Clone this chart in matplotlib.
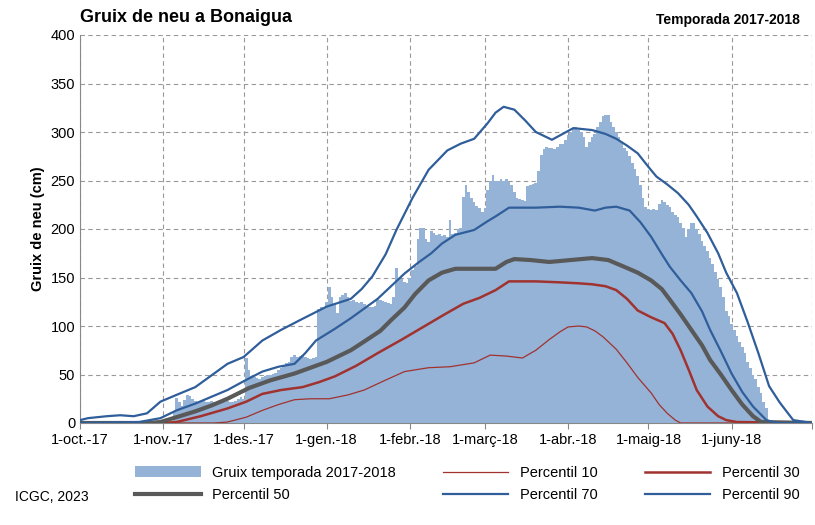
import numpy as np
import matplotlib.pyplot as plt

# daily snow depth (cm), day 0 = 1-oct-17
nov = [0, 0, 0, 0, 12, 26, 22, 18, 24, 29, 28, 25, 23, 22, 22, 23, 22, 22, 23, 22,
       22, 23, 22, 22, 23, 22, 22, 23, 25, 27]
dec = [25, 67, 55, 48, 47, 46, 45, 47, 48, 50, 49, 51, 52, 55, 57, 60, 62, 63, 68, 70,
       68, 69, 70, 68, 67, 66, 67, 68, 118, 120, 119]
jan = [125, 140, 130, 123, 113, 130, 132, 134, 130, 126, 127, 125, 124, 125, 123, 121,
       120, 120, 121, 128, 127, 126, 125, 124, 123, 130, 160, 150, 148, 145, 144]
feb = [150, 158, 162, 190, 201, 201, 190, 187, 198, 196, 194, 195, 193, 194, 192, 209,
       195, 196, 200, 201, 233, 245, 238, 232, 228, 224, 222, 218]
mar = [222, 240, 250, 256, 250, 249, 252, 250, 252, 248, 245, 238, 232, 231, 230, 229,
       244, 245, 246, 247, 260, 276, 282, 285, 284, 283, 282, 285, 288, 288, 292]
apr = [297, 300, 303, 305, 302, 300, 295, 285, 290, 295, 298, 305, 310, 316, 318, 318,
       310, 305, 300, 295, 290, 284, 280, 275, 268, 262, 255, 245, 232, 223]
may = [221, 220, 221, 220, 226, 230, 228, 225, 223, 218, 214, 212, 206, 201, 192, 200,
       206, 206, 200, 195, 188, 182, 177, 170, 164, 156, 148, 140, 130, 115, 110]
jun = [102, 96, 90, 84, 78, 72, 63, 57, 50, 45, 37, 31, 22, 15]
depth = [0] * 31 + nov + dec + jan + feb + mar + apr + may + jun

# percentile curves as (day, cm)
p10_days = [0, 50, 55, 62, 68, 74, 80, 86, 93, 100, 106, 113, 121, 130, 138, 147, 153, 159, 165, 170, 175, 179, 182, 186,
            189, 192, 195, 200, 204, 208, 213, 216, 219, 222, 224, 273]
p10_vals = [0, 0, 1, 6, 13, 19, 24, 25, 25, 29, 34, 43, 53, 57, 58, 62, 70, 69, 67, 75, 86, 94, 99, 100,
            99, 95, 89, 76, 62, 47, 31, 19, 10, 3, 0, 0]
p30_days = [0, 30, 36, 45, 55, 62, 68, 75, 83, 89, 95, 103, 111, 120, 128, 136, 143, 149, 155, 160, 170, 179, 186, 191,
            196, 200, 204, 208, 213, 218, 221, 224, 227, 230, 234, 238, 241, 245, 273]
p30_vals = [0, 0, 1, 7, 15, 22, 30, 34, 37, 42, 48, 59, 72, 86, 99, 112, 123, 129, 137, 146, 146, 145, 144, 143,
            141, 137, 128, 116, 109, 103, 92, 75, 55, 34, 17, 7, 3, 1, 0]
p50_days = [0, 25, 30, 36, 43, 49, 55, 63, 71, 80, 86, 92, 101, 106, 112, 116, 121, 125, 130, 135, 140, 147, 155, 159, 162,
            168, 175, 183, 191, 197, 203, 208, 213, 217, 220, 224, 228, 232, 235, 239, 243, 247, 251, 254, 273]
p50_vals = [0, 0, 1, 6, 12, 18, 25, 36, 44, 51, 57, 63, 75, 84, 95, 106, 119, 133, 147, 155, 159, 159, 159, 166, 169,
            168, 166, 168, 170, 168, 161, 155, 147, 138, 127, 112, 96, 80, 65, 50, 34, 19, 7, 1, 0]
p70_days = [0, 22, 30, 36, 43, 49, 55, 61, 68, 74, 80, 84, 88, 95, 101, 106, 111, 116, 121, 126, 131, 135, 140, 147, 152, 155,
            160, 170, 179, 186, 192, 196, 200, 205, 209, 213, 217, 220, 224, 228, 232, 235, 239, 243, 247, 251, 256, 260, 273]
p70_vals = [0, 1, 5, 13, 20, 27, 34, 43, 53, 58, 61, 72, 85, 97, 108, 118, 128, 141, 154, 165, 175, 185, 194, 199, 208, 213,
            222, 222, 223, 222, 219, 222, 223, 219, 207, 192, 174, 161, 147, 134, 115, 96, 74, 51, 32, 17, 3, 0, 0]
p90_days = [0, 3, 10, 15, 20, 25, 30, 36, 43, 49, 55, 61, 68, 75, 82, 92, 101, 105, 109, 114, 118, 124, 130, 137, 142, 147,
            152, 155, 158, 162, 166, 170, 176, 180, 184, 191, 196, 200, 204, 208, 212, 215, 219, 223, 227, 230, 234, 238,
            241, 245, 249, 253, 257, 261, 266, 273]
p90_vals = [3, 5, 7, 8, 7, 10, 22, 29, 37, 49, 61, 68, 85, 96, 106, 120, 128, 138, 151, 174, 199, 232, 261, 281, 288, 293,
            309, 320, 326, 323, 312, 300, 292, 298, 304, 302, 298, 293, 286, 278, 264, 254, 246, 237, 225, 213, 196, 175,
            155, 134, 104, 72, 38, 21, 3, 0]

month_days = [0, 31, 61, 92, 123, 151, 182, 212, 243, 273]
month_labels = ['1-oct.-17', '1-nov.-17', '1-des.-17', '1-gen.-18', '1-febr.-18',
                '1-març-18', '1-abr.-18', '1-maig-18', '1-juny-18', '']

plt.rcParams['font.family'] = ['Liberation Sans', 'DejaVu Sans']
fig = plt.figure(figsize=(8.15, 5.25), dpi=100)
ax = fig.add_axes([80 / 815, 102 / 525, 732 / 815, 388 / 525])

days = np.arange(len(depth))
bars = ax.bar(days, depth, width=1.0, color='#95B3D7', zorder=2)
red = '#A0322F'
blue = '#2F5E9A'
l10, = ax.plot(p10_days, p10_vals, color=red, lw=0.9, zorder=3)
l30, = ax.plot(p30_days, p30_vals, color=red, lw=1.8, zorder=3)
l50, = ax.plot(p50_days, p50_vals, color='#595959', lw=3, zorder=3)
l70, = ax.plot(p70_days, p70_vals, color=blue, lw=1.6, zorder=3)
l90, = ax.plot(p90_days, p90_vals, color=blue, lw=1.6, zorder=3)

ax.set_xlim(0, 273)
ax.set_ylim(0, 400)
ax.set_yticks(range(0, 401, 50))
ax.set_xticks(month_days)
ax.set_xticklabels(month_labels, fontsize=10.5)
ax.tick_params(axis='y', labelsize=10.5)
ax.tick_params(axis='x', length=4, color='#888888')
ax.tick_params(axis='y', length=0)
ax.grid(True, ls=(0, (4, 3)), color='#999999', lw=0.8, zorder=0)
ax.set_axisbelow(True)
for s in ['top', 'right']:
    ax.spines[s].set_visible(False)
for s in ['left', 'bottom']:
    ax.spines[s].set_color('#888888')
ax.set_ylabel('Gruix de neu (cm)', fontsize=10.5, fontweight='bold')

fig.text(80 / 815, 1 - 17 / 525, 'Gruix de neu a Bonaigua', fontsize=13, fontweight='bold', va='center')
fig.text(800 / 815, 1 - 20 / 525, 'Temporada 2017-2018', fontsize=10, fontweight='bold', va='center', ha='right')
fig.text(15 / 815, 1 - 497 / 525, 'ICGC, 2023', fontsize=10, va='center')

# column-major fill: rows read bars/P10/P30 then P50/P70/P90
h = [bars, l50, l10, l70, l30, l90]
l = ['Gruix temporada 2017-2018', 'Percentil 50', 'Percentil 10', 'Percentil 70', 'Percentil 30', 'Percentil 90']
fig.legend(h, l, ncol=3, loc='center left', bbox_to_anchor=(122 / 815, 1 - 484 / 525), frameon=False,
           fontsize=10.5, columnspacing=3.2, handlelength=4.5, labelspacing=0.6)

fig.savefig('out.png', dpi=100)
